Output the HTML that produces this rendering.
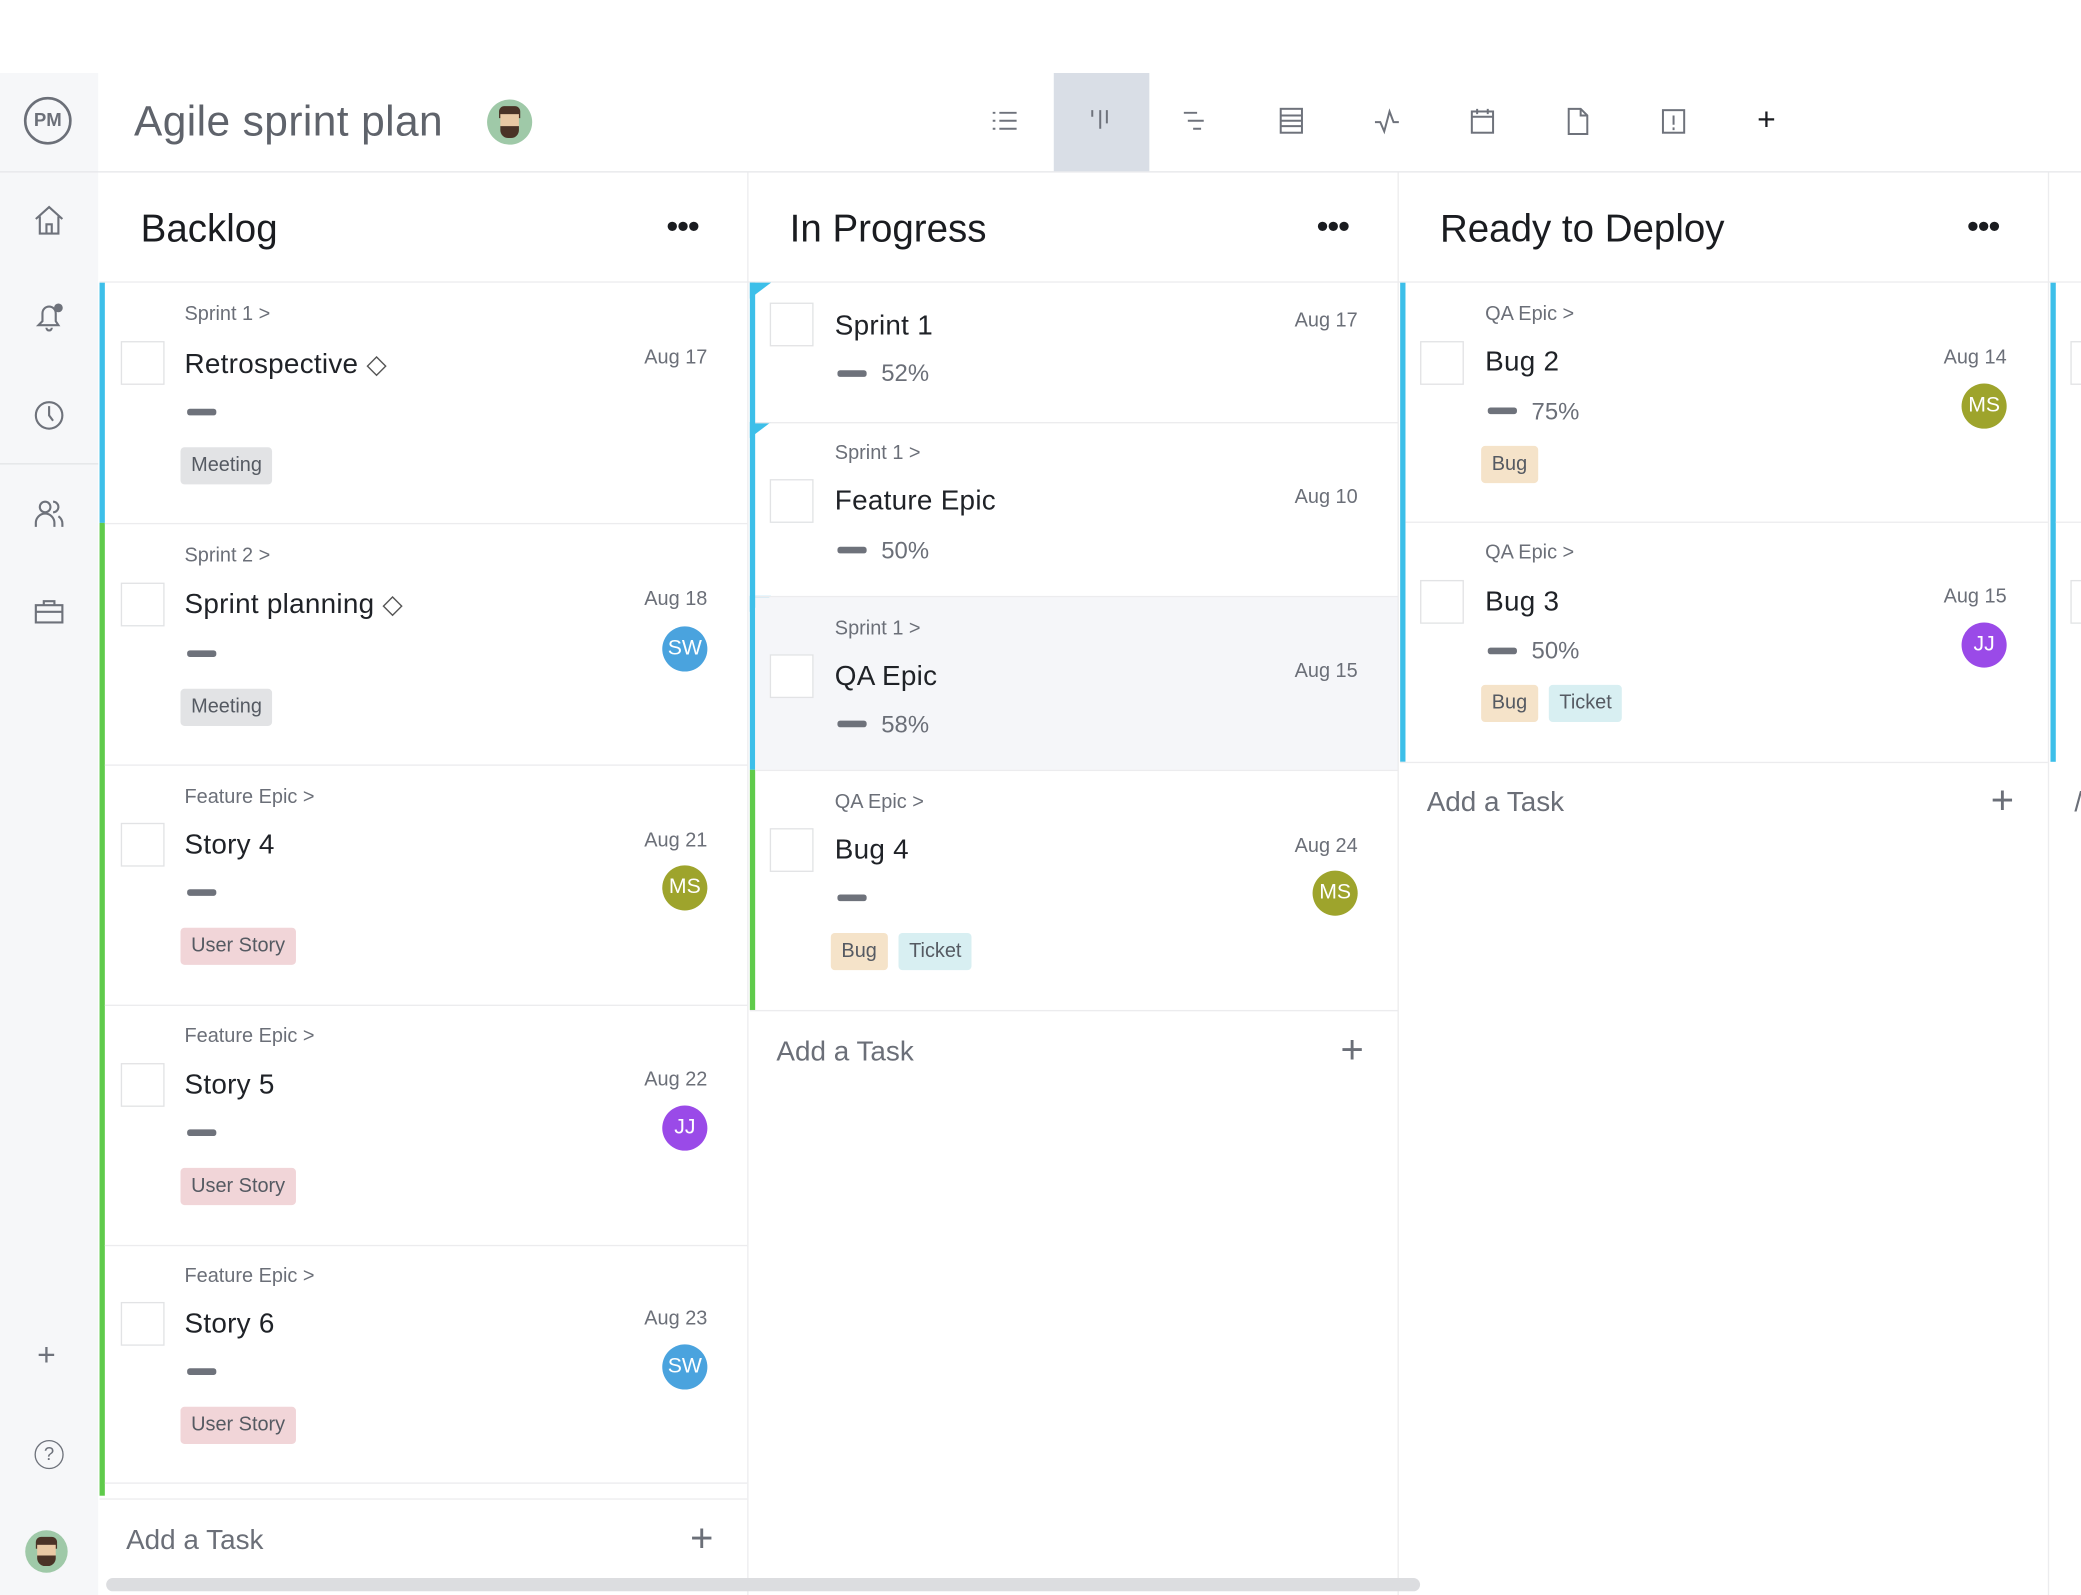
<!DOCTYPE html>
<html><head><meta charset="utf-8">
<style>
*{margin:0;padding:0;box-sizing:border-box}
html,body{width:2081px;height:1595px;overflow:hidden;background:#fff;font-family:"Liberation Sans",sans-serif}
#w{position:absolute;left:0;top:0;width:1568px;height:1202px;transform:scale(1.32717);transform-origin:0 0;overflow:hidden}
.a{position:absolute}
.bc{position:absolute;font-size:15px;color:#6b6f78;line-height:18px;white-space:nowrap}
.ti{position:absolute;font-size:21px;color:#1f2227;line-height:26px;white-space:nowrap;letter-spacing:.2px}
.dt{position:absolute;font-size:15px;color:#6b6f78;line-height:18px;text-align:right;width:80px;white-space:nowrap}
.cb{position:absolute;width:33px;height:33px;border:1px solid #e2e3e5;background:#fff}
.ds{position:absolute;width:22px;height:5px;background:#6e727b;border-radius:2px}
.pc{position:absolute;font-size:18px;color:#6b6f78;line-height:20px}
.tg{position:absolute;height:28px;line-height:28px;padding:0 8px;font-size:15px;color:#555a62;border-radius:3px;white-space:nowrap}
.av{position:absolute;width:34px;height:34px;border-radius:50%;color:#fff;font-size:16px;line-height:34px;text-align:center}
.ms{background:#9ea42c}.sw{background:#4aa3de}.jj{background:#9a4ae8}
.mt{background:#e2e3e5}.us{background:#f1d5d8}.bg{background:#f5e3c9}.tk{background:#d8eff2}
.hl{position:absolute;height:1px;background:#ececee}
.vl{position:absolute;width:1px;background:#ececee}
.ch{position:absolute;font-size:29px;color:#1a1c20;line-height:34px}
.dots{position:absolute;font-size:26px;color:#1a1c20;letter-spacing:-1px;line-height:20px}
.add{position:absolute;font-size:21px;color:#6b6f78;line-height:24px}
.plus{position:absolute;font-size:30px;color:#6b6f78;line-height:30px;font-weight:300}
.bl{position:absolute;width:4px;background:#3dbfe9}
.gr{position:absolute;width:4px;background:#5fcb4b}
.tri{position:absolute;width:0;height:0;border-top:10px solid #3dbfe9;border-right:10px solid transparent}
.ic{position:absolute}
</style></head><body><div id="w">

<!-- sidebar -->
<div class="a" style="left:0;top:55px;width:74px;height:1147px;background:#f6f7f9"></div>
<div class="hl" style="left:0;top:129px;width:1568px;background:#e6e7ea"></div>
<div class="hl" style="left:0;top:349px;width:74px;background:#e3e4e7"></div>
<div class="a" style="left:18px;top:73px;width:36px;height:36px;border:2.5px solid #6b6f78;border-radius:50%;font-size:14px;font-weight:bold;color:#6b6f78;text-align:center;line-height:31px">PM</div>
<svg class="ic" style="left:24px;top:153px" width="26" height="26" viewBox="0 0 26 26" fill="none" stroke="#6e727b" stroke-width="1.6"><path d="M3 12L13 3l10 9M6 10v13h14V10M11 23v-7h4v7"/></svg>
<svg class="ic" style="left:24px;top:226px" width="26" height="26" viewBox="0 0 26 26" fill="none" stroke="#6e727b" stroke-width="1.6"><path d="M5 19h15l-2-3v-6a5 5 0 0 0-10 0v6zM11 21a2 2 0 0 0 4 0"/><circle cx="20" cy="6" r="2.5" fill="#6e727b"/></svg>
<svg class="ic" style="left:24px;top:300px" width="26" height="26" viewBox="0 0 26 26" fill="none" stroke="#6e727b" stroke-width="1.6"><circle cx="13" cy="13" r="10"/><path d="M13 6v7l3 4"/></svg>
<svg class="ic" style="left:24px;top:374px" width="26" height="26" viewBox="0 0 26 26" fill="none" stroke="#6e727b" stroke-width="1.6"><circle cx="10" cy="8" r="4"/><path d="M3 23v-3a7 7 0 0 1 14 0v3M16 4a4 4 0 0 1 0 8M20 15a7 7 0 0 1 3 6v2"/></svg>
<svg class="ic" style="left:24px;top:448px" width="26" height="26" viewBox="0 0 26 26" fill="none" stroke="#6e727b" stroke-width="1.6"><rect x="3" y="8" width="20" height="13"/><path d="M9 8V5h8v3M3 13h20"/></svg>
<div class="a" style="left:28px;top:1008px;font-size:24px;color:#6e727b;line-height:28px">+</div>
<div class="a" style="left:26px;top:1085px;width:22px;height:22px;border:1.6px solid #6e727b;border-radius:50%;font-size:14px;color:#6e727b;text-align:center;line-height:19px">?</div>
<div class="a" style="left:19px;top:1153px;width:32px;height:32px;border-radius:50%;background:#9fc9a8;overflow:hidden"><div style="position:absolute;left:8px;top:5px;width:16px;height:9px;background:#4a3326;border-radius:4px 4px 0 0"></div><div style="position:absolute;left:9px;top:11px;width:14px;height:10px;background:#e9c9a4"></div><div style="position:absolute;left:9px;top:19px;width:14px;height:8px;background:#4a3326;border-radius:0 0 6px 6px"></div></div>

<!-- header -->
<div class="a" style="left:101px;top:71px;font-size:32px;color:#5f636b;line-height:40px;letter-spacing:.3px">Agile sprint plan</div>
<div class="a" style="left:367px;top:75px;width:34px;height:34px;border-radius:50%;background:#9fc9a8;overflow:hidden"><div style="position:absolute;left:9px;top:5px;width:16px;height:9px;background:#4a3326;border-radius:4px 4px 0 0"></div><div style="position:absolute;left:10px;top:11px;width:14px;height:11px;background:#e9c9a4"></div><div style="position:absolute;left:10px;top:20px;width:14px;height:9px;background:#4a3326;border-radius:0 0 6px 6px"></div></div>
<div class="a" style="left:794px;top:55px;width:72px;height:74px;background:#d9dee6"></div>
<svg class="ic" style="left:746px;top:80px" width="22" height="22" viewBox="0 0 22 22" stroke="#6e727b" stroke-width="1.5"><path d="M2 5h2M7 5h13M2 11h2M7 11h13M2 17h2M7 17h13"/></svg>
<svg class="ic" style="left:818px;top:80px" width="22" height="22" viewBox="0 0 22 22" stroke="#6e727b" stroke-width="1.5"><path d="M5 3v5M11 3v14M16 3v10"/></svg>
<svg class="ic" style="left:889px;top:80px" width="22" height="22" viewBox="0 0 22 22" stroke="#6e727b" stroke-width="1.5"><path d="M3 5h10M6 11h12M10 17h6"/></svg>
<svg class="ic" style="left:962px;top:80px" width="22" height="22" viewBox="0 0 22 22" fill="none" stroke="#6e727b" stroke-width="1.5"><rect x="3" y="2" width="16" height="18"/><path d="M3 7h16M3 11h16M3 15h16"/></svg>
<svg class="ic" style="left:1034px;top:80px" width="22" height="22" viewBox="0 0 22 22" fill="none" stroke="#6e727b" stroke-width="1.5"><path d="M2 12h4l3 7 4-15 3 8h4"/></svg>
<svg class="ic" style="left:1106px;top:80px" width="22" height="22" viewBox="0 0 22 22" fill="none" stroke="#6e727b" stroke-width="1.5"><rect x="3" y="4" width="16" height="16"/><path d="M3 8h16M7 2v4M15 2v4"/></svg>
<svg class="ic" style="left:1178px;top:80px" width="22" height="22" viewBox="0 0 22 22" fill="none" stroke="#6e727b" stroke-width="1.5"><path d="M4 2h9l5 5v14H4z M13 2v5h5"/></svg>
<svg class="ic" style="left:1250px;top:80px" width="22" height="22" viewBox="0 0 22 22" fill="none" stroke="#6e727b" stroke-width="1.5"><rect x="3" y="3" width="16" height="17"/><path d="M11 7v7M11 16v2"/></svg>
<div class="a" style="left:1324px;top:78px;font-size:24px;color:#1a1c20;line-height:26px">+</div>

<!-- column separators -->
<div class="vl" style="left:563px;top:130px;height:1072px"></div>
<div class="vl" style="left:1053px;top:130px;height:1072px"></div>
<div class="vl" style="left:1543px;top:130px;height:1072px"></div>
<div class="hl" style="left:75px;top:212px;width:1493px"></div>

<div class="ch" style="left:106px;top:156px">Backlog</div>
<div class="dots" style="left:502px;top:160px">•••</div>
<div class="ch" style="left:595px;top:156px">In Progress</div>
<div class="dots" style="left:992px;top:160px">•••</div>
<div class="ch" style="left:1085px;top:156px">Ready to Deploy</div>
<div class="dots" style="left:1482px;top:160px">•••</div>

<!-- BACKLOG -->
<div class="bl" style="left:75px;top:213px;height:181px"></div>
<div class="gr" style="left:75px;top:394px;height:733px"></div>
<div class="hl" style="left:79px;top:394px;width:484px"></div>
<div class="hl" style="left:79px;top:576px;width:484px"></div>
<div class="hl" style="left:79px;top:757px;width:484px"></div>
<div class="hl" style="left:79px;top:938px;width:484px"></div>
<div class="hl" style="left:79px;top:1117px;width:484px"></div>
<div class="hl" style="left:75px;top:1129px;width:488px"></div>

<!-- card 1 -->
<div class="bc" style="left:139px;top:228px">Sprint 1 &gt;</div>
<div class="cb" style="left:91px;top:257px"></div>
<div class="ti" style="left:139px;top:262px">Retrospective <span style="font-size:20px;color:#555">◇</span></div>
<div class="dt" style="left:453px;top:261px">Aug 17</div>
<div class="ds" style="left:141px;top:308px"></div>
<div class="tg mt" style="left:136px;top:337px">Meeting</div>
<!-- card 2 -->
<div class="bc" style="left:139px;top:410px">Sprint 2 &gt;</div>
<div class="cb" style="left:91px;top:439px"></div>
<div class="ti" style="left:139px;top:443px">Sprint planning <span style="font-size:20px;color:#555">◇</span></div>
<div class="dt" style="left:453px;top:443px">Aug 18</div>
<div class="av sw" style="left:499px;top:472px">SW</div>
<div class="ds" style="left:141px;top:490px"></div>
<div class="tg mt" style="left:136px;top:519px">Meeting</div>
<!-- card 3 -->
<div class="bc" style="left:139px;top:592px">Feature Epic &gt;</div>
<div class="cb" style="left:91px;top:620px"></div>
<div class="ti" style="left:139px;top:624px">Story 4</div>
<div class="dt" style="left:453px;top:625px">Aug 21</div>
<div class="av ms" style="left:499px;top:652px">MS</div>
<div class="ds" style="left:141px;top:670px"></div>
<div class="tg us" style="left:136px;top:699px">User Story</div>
<!-- card 4 -->
<div class="bc" style="left:139px;top:772px">Feature Epic &gt;</div>
<div class="cb" style="left:91px;top:801px"></div>
<div class="ti" style="left:139px;top:805px">Story 5</div>
<div class="dt" style="left:453px;top:805px">Aug 22</div>
<div class="av jj" style="left:499px;top:833px">JJ</div>
<div class="ds" style="left:141px;top:851px"></div>
<div class="tg us" style="left:136px;top:880px">User Story</div>
<!-- card 5 -->
<div class="bc" style="left:139px;top:953px">Feature Epic &gt;</div>
<div class="cb" style="left:91px;top:981px"></div>
<div class="ti" style="left:139px;top:985px">Story 6</div>
<div class="dt" style="left:453px;top:985px">Aug 23</div>
<div class="av sw" style="left:499px;top:1013px">SW</div>
<div class="ds" style="left:141px;top:1031px"></div>
<div class="tg us" style="left:136px;top:1060px">User Story</div>

<div class="add" style="left:95px;top:1149px">Add a Task</div>
<div class="plus" style="left:520px;top:1145px">+</div>
<div class="a" style="left:80px;top:1189px;width:990px;height:10px;background:#dcdde0;border-radius:5px"></div>

<!-- IN PROGRESS -->
<div class="bl" style="left:565px;top:213px;height:367px"></div>
<div class="tri" style="left:565px;top:213px;border-top-width:12px;border-right-width:16px"></div>
<div class="tri" style="left:565px;top:318px;border-top-width:12px;border-right-width:16px"></div>
<div class="tri" style="left:565px;top:449px;border-top-width:12px;border-right-width:16px"></div>
<div class="a" style="left:569px;top:450px;width:484px;height:130px;background:#f5f6f9"></div>
<div class="gr" style="left:565px;top:580px;height:181px"></div>
<div class="hl" style="left:569px;top:318px;width:484px"></div>
<div class="hl" style="left:569px;top:449px;width:484px"></div>
<div class="hl" style="left:569px;top:580px;width:484px"></div>
<div class="hl" style="left:565px;top:761px;width:488px"></div>

<div class="cb" style="left:580px;top:228px"></div>
<div class="ti" style="left:629px;top:233px">Sprint 1</div>
<div class="dt" style="left:943px;top:233px">Aug 17</div>
<div class="ds" style="left:631px;top:279px"></div>
<div class="pc" style="left:664px;top:271px">52%</div>

<div class="bc" style="left:629px;top:333px">Sprint 1 &gt;</div>
<div class="cb" style="left:580px;top:361px"></div>
<div class="ti" style="left:629px;top:365px">Feature Epic</div>
<div class="dt" style="left:943px;top:366px">Aug 10</div>
<div class="ds" style="left:631px;top:412px"></div>
<div class="pc" style="left:664px;top:405px">50%</div>

<div class="bc" style="left:629px;top:465px">Sprint 1 &gt;</div>
<div class="cb" style="left:580px;top:493px"></div>
<div class="ti" style="left:629px;top:497px">QA Epic</div>
<div class="dt" style="left:943px;top:497px">Aug 15</div>
<div class="ds" style="left:631px;top:543px"></div>
<div class="pc" style="left:664px;top:536px">58%</div>

<div class="bc" style="left:629px;top:596px">QA Epic &gt;</div>
<div class="cb" style="left:580px;top:624px"></div>
<div class="ti" style="left:629px;top:628px">Bug 4</div>
<div class="dt" style="left:943px;top:629px">Aug 24</div>
<div class="av ms" style="left:989px;top:656px">MS</div>
<div class="ds" style="left:631px;top:674px"></div>
<div class="tg bg" style="left:626px;top:703px">Bug</div>
<div class="tg tk" style="left:677px;top:703px">Ticket</div>

<div class="add" style="left:585px;top:781px">Add a Task</div>
<div class="plus" style="left:1010px;top:777px">+</div>

<!-- READY -->
<div class="bl" style="left:1055px;top:213px;height:361px"></div>
<div class="hl" style="left:1059px;top:393px;width:484px"></div>
<div class="hl" style="left:1055px;top:574px;width:488px"></div>

<div class="bc" style="left:1119px;top:228px">QA Epic &gt;</div>
<div class="cb" style="left:1070px;top:257px"></div>
<div class="ti" style="left:1119px;top:260px">Bug 2</div>
<div class="dt" style="left:1432px;top:261px">Aug 14</div>
<div class="av ms" style="left:1478px;top:289px">MS</div>
<div class="ds" style="left:1121px;top:307px"></div>
<div class="pc" style="left:1154px;top:300px">75%</div>
<div class="tg bg" style="left:1116px;top:336px">Bug</div>

<div class="bc" style="left:1119px;top:408px">QA Epic &gt;</div>
<div class="cb" style="left:1070px;top:437px"></div>
<div class="ti" style="left:1119px;top:441px">Bug 3</div>
<div class="dt" style="left:1432px;top:441px">Aug 15</div>
<div class="av jj" style="left:1478px;top:469px">JJ</div>
<div class="ds" style="left:1121px;top:488px"></div>
<div class="pc" style="left:1154px;top:480px">50%</div>
<div class="tg bg" style="left:1116px;top:516px">Bug</div>
<div class="tg tk" style="left:1167px;top:516px">Ticket</div>

<div class="add" style="left:1075px;top:593px">Add a Task</div>
<div class="plus" style="left:1500px;top:589px">+</div>

<!-- partial 4th column -->
<div class="bl" style="left:1545px;top:213px;height:361px"></div>
<div class="hl" style="left:1549px;top:393px;width:20px"></div>
<div class="cb" style="left:1560px;top:257px"></div>
<div class="cb" style="left:1560px;top:437px"></div>
<div class="add" style="left:1563px;top:593px">/</div>

</div></body></html>
